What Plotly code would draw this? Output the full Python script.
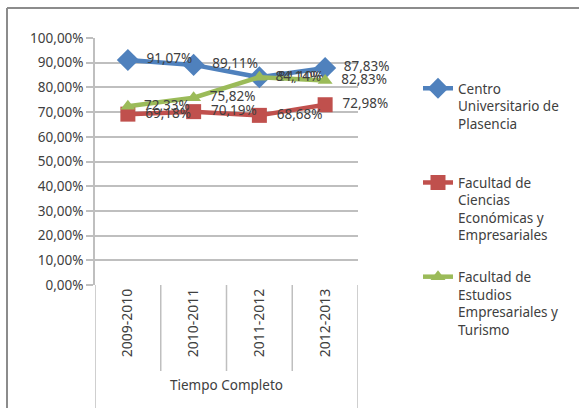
import plotly.graph_objects as go

categories = ["2009-2010", "2010-2011", "2011-2012", "2012-2013"]
group_label = "Tiempo Completo"
series_names = [
    "Centro<br>Universitario de<br>Plasencia<br> ",
    "Facultad de<br>Ciencias<br>Económicas y<br>Empresariales",
    "Facultad de<br>Estudios<br>Empresariales y<br>Turismo",
]
centro = [91.07, 89.11, 84.10, 87.83]
ciencias = [69.18, 70.19, 68.68, 72.98]
estudios = [72.33, 75.82, 84.14, 82.83]
y_ticks = [0, 10, 20, 30, 40, 50, 60, 70, 80, 90, 100]
y_tick_labels = ["0,00%", "10,00%", "20,00%", "30,00%", "40,00%", "50,00%",
                 "60,00%", "70,00%", "80,00%", "90,00%", "100,00%"]

W, H = 579, 408
FONT = "Noto Sans"
colors = ["#4F81BD", "#C0504D", "#9BBB59"]
symbols = ["diamond", "square", "triangle-up"]
msizes = [17, 15, 13]

def fmt(v):
    return "\u00a0\u00a0" + f"{v:.2f}".replace(".", ",") + "%"

xs = list(range(len(categories)))
fig = go.Figure()
for name, vals, c, s, ms in zip(series_names, [centro, ciencias, estudios], colors, symbols, msizes):
    fig.add_trace(go.Scatter(
        x=xs, y=vals, name=name, mode="lines+markers+text",
        line=dict(color=c, width=4.5),
        marker=dict(color=c, symbol=s, size=ms),
        text=[fmt(v) for v in vals], textposition="middle right",
        textfont=dict(family=FONT, size=13.5, color="#404040"),
        legendgroup=name, cliponaxis=False,
    ))

x0p, x1p = 95 / W, 358 / W
ybot, ytop = (H - 285) / H, (H - 38) / H

fig.update_layout(
    width=W, height=H, margin=dict(l=0, r=0, t=0, b=0, autoexpand=False),
    paper_bgcolor="white", plot_bgcolor="white",
    font=dict(family=FONT, size=13.5, color="#404040"),
    showlegend=True,
    legend=dict(x=418 / W, xanchor="left", y=(H - 73) / H, yanchor="top",
                valign="top", traceorder="grouped", tracegroupgap=21,
                font=dict(family=FONT, size=13.5, color="#404040"),
                bgcolor="rgba(0,0,0,0)"),
    xaxis=dict(domain=[x0p, x1p], range=[-0.5, len(categories) - 0.5],
               tickvals=xs, ticktext=categories, tickangle=-90, automargin=False,
               showgrid=False, zeroline=False, showline=False, ticks="",
               tickfont=dict(family=FONT, size=14, color="#404040")),
    yaxis=dict(domain=[ybot, ytop], range=[0, 100], automargin=False,
               tickvals=y_ticks, ticktext=y_tick_labels,
               showgrid=True, gridcolor="#BFBFBF", gridwidth=1.5,
               zeroline=False, showline=True, linecolor="#BFBFBF", linewidth=1.5,
               ticks="outside", ticklen=7, tickcolor="#BFBFBF", tickwidth=1.5,
               tickfont=dict(family=FONT, size=13.5, color="#404040")),
)

# category dividers below the axis
n = len(categories)
for i in range(n + 1):
    outer = i == 0 or i == n
    fig.add_shape(type="line", xref="x", yref="paper",
                  x0=i - 0.5, x1=i - 0.5, y0=ybot, y1=0 if outer else (H - 371) / H,
                  line=dict(color="#BFBFBF", width=1.5))

fig.add_annotation(text=group_label, xref="x", yref="paper",
                   x=(n - 1) / 2, y=(H - 385) / H, yanchor="middle", xanchor="center",
                   showarrow=False,
                   font=dict(family=FONT, size=13.5, color="#404040"))

# chart border (top and left visible)
fig.add_shape(type="line", xref="paper", yref="paper", x0=7 / W, x1=1, y0=(H - 8) / H, y1=(H - 8) / H,
              line=dict(color="#8C8C8C", width=2))
fig.add_shape(type="line", xref="paper", yref="paper", x0=7 / W, x1=7 / W, y0=0, y1=(H - 8) / H,
              line=dict(color="#8C8C8C", width=2))

fig.write_html("out.html", config={"displayModeBar": False},
               post_script="document.body.style.margin='0';document.body.style.overflow='hidden';")
